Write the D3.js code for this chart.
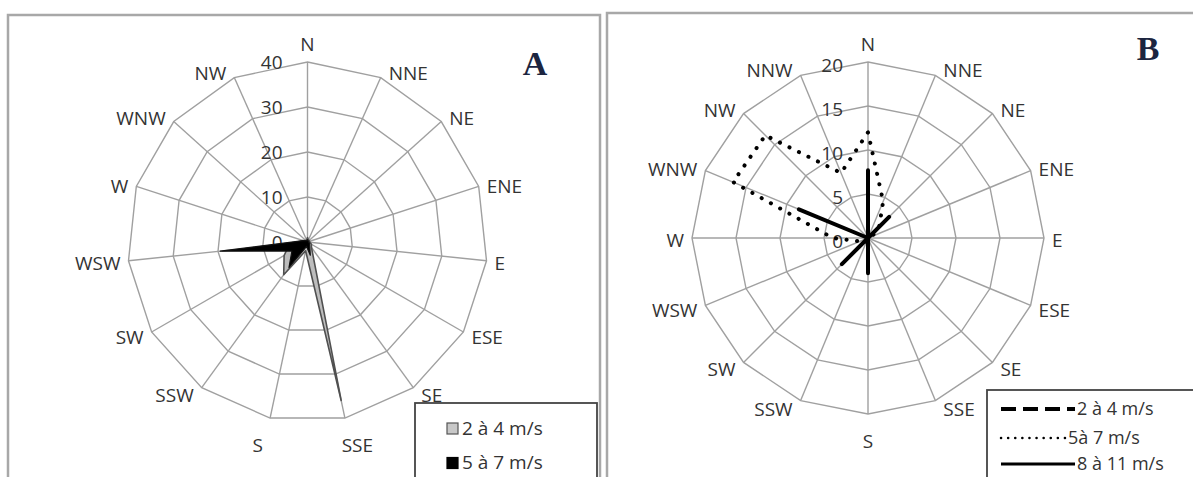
<!DOCTYPE html>
<html><head><meta charset="utf-8">
<script src="https://cdn.jsdelivr.net/npm/d3@7"></script>
<style>body{margin:0;background:#fff}svg text{font-family:"Open Sans",sans-serif}</style>
</head><body><svg id="c" width="1193" height="477"></svg>
<script>
// ---- Panel A data (15 directions) ----
const catsA = ["N","NNE","NE","ENE","E","ESE","SE","SSE","S","SSW","SW","WSW","W","WNW","NW"];
const speed24A = [1, 0.5, 0.5, 0.5, 0.5, 1, 1.5, 36, 2, 9, 6, 4, 1, 0.5, 0.5];
const speed57A = [0.5, 0.3, 0.3, 0.3, 0.3, 0.5, 0.8, 3, 1, 7, 4, 19.5, 1, 0.5, 0.3];
const ticksA = [0, 10, 20, 30, 40];
const seriesNamesA = ["2 à 4 m/s", "5 à 7 m/s"];

// ---- Panel B data (16 directions) ----
const catsB = ["N","NNE","NE","ENE","E","ESE","SE","SSE","S","SSW","SW","WSW","W","WNW","NW","NNW"];
const speed24B = [7.7, 0, 0, 0, 0, 0, 0, 0, 0, 0, 0, 0, 0, 0, 0, 0];
const speed57B = [12, 4.5, 1.8, 0.5, 0.3, 0.3, 0.3, 0.3, 0.5, 0.5, 0.8, 1, 4, 16.6, 16.5, 8];
const speed811B = [3.2, 0, 3.4, 0, 0, 0, 0, 0, 4, 0, 4.2, 0, 0, 8.5, 0, 0];
const ticksB = [0, 5, 10, 15, 20];
const seriesNamesB = ["2 à 4 m/s", "5à 7 m/s", "8 à 11 m/s"];

const svg = d3.select("#c");
svg.append("rect").attr("width",1193).attr("height",477).attr("fill","#fff");

// panel frames
svg.append("rect").attr("x",8).attr("y",15).attr("width",592).attr("height",480)
  .attr("fill","none").attr("stroke","#a8a8a8").attr("stroke-width",2.5);
svg.append("rect").attr("x",607).attr("y",13).attr("width",600).attr("height",480)
  .attr("fill","none").attr("stroke","#a8a8a8").attr("stroke-width",2.5);

function radarFrame(cx, cy, R, cats, ticks, tickOffY) {
  const g = svg.append("g").attr("transform", `translate(${cx},${cy})`);
  const n = cats.length;
  const ang = d3.scaleLinear().domain([0, n]).range([0, 2*Math.PI]);
  const r = d3.scaleLinear().domain([0, d3.max(ticks)]).range([0, R]);
  const ring = d3.lineRadial().angle((d,i)=>ang(i)).radius(d=>r(d)).curve(d3.curveLinearClosed);
  ticks.filter(t=>t>0).forEach(t=>{
    g.append("path").attr("d", ring(cats.map(()=>t)))
      .attr("fill","none").attr("stroke","#a0a0a0").attr("stroke-width",1.4);
  });
  cats.forEach((c,i)=>{
    const a = ang(i), s = Math.sin(a), co = Math.cos(a);
    g.append("line").attr("x1",0).attr("y1",0)
      .attr("x2", R*s).attr("y2", -R*co)
      .attr("stroke","#a0a0a0").attr("stroke-width",1.4);
    const vx = R*s, vy = -R*co;
    let x, y, anchor;
    if (Math.abs(s) < 0.25) {
      anchor = "middle"; x = vx + s*60; y = co > 0 ? vy - 18 : vy + 27;
    } else {
      anchor = s > 0 ? "start" : "end"; x = vx + Math.sign(s)*8; y = vy - 7*co + 2;
    }
    g.append("text").attr("x",x).attr("y",y+6.5).attr("text-anchor",anchor)
      .attr("font-size",19).attr("fill","#333").text(c);
  });
  ticks.forEach(t=>{
    g.append("text").attr("x",-25).attr("y",-r(t)+tickOffY).attr("text-anchor","end")
      .attr("font-size",19).attr("fill","#333").text(t);
  });
  return {g, ang, r};
}

// ---- Panel A ----
const A = radarFrame(307.5, 242, 180, catsA, ticksA, 7);
const areaA = d3.lineRadial().angle((d,i)=>A.ang(i)).radius(d=>A.r(d)).curve(d3.curveLinearClosed);
A.g.append("path").attr("d", areaA(speed24A)).attr("fill","#bdbdbd")
  .attr("stroke","#505050").attr("stroke-width",1.6).attr("stroke-linejoin","round");
A.g.append("path").attr("d", areaA(speed57A)).attr("fill","#000")
  .attr("stroke","#111").attr("stroke-width",1.2).attr("stroke-linejoin","round");

svg.append("text").attr("x",535).attr("y",75).attr("text-anchor","middle")
  .style("font-family","'Liberation Serif', serif")
  .attr("font-weight","bold").attr("font-size",34).attr("fill","#1c2540").text("A");

// legend A
svg.append("rect").attr("x",415).attr("y",403).attr("width",182).attr("height",100)
  .attr("fill","#fff").attr("stroke","#444").attr("stroke-width",1.8);
const legA = [{fill:"#c8c8c8", stroke:"#555"}, {fill:"#000", stroke:"#000"}];
seriesNamesA.forEach((nm,i)=>{
  const y = 423 + i*34.5;
  svg.append("rect").attr("x",447).attr("y",y).attr("width",11).attr("height",11)
    .attr("fill",legA[i].fill).attr("stroke",legA[i].stroke).attr("stroke-width",1.2);
  svg.append("text").attr("x",462).attr("y",y+11.5).attr("font-size",19).attr("fill","#333").text(nm);
});

// ---- Panel B ----
const B = radarFrame(868, 238, 176, catsB, ticksB, 10);
const lineB = d3.lineRadial().angle((d,i)=>B.ang(i)).radius(d=>B.r(d)).curve(d3.curveLinearClosed);
const stylesB = [
  {w:4, dash:"15,7", cap:"butt"},
  {w:4, dash:"0.1,10.5", cap:"round"},
  {w:4, dash:null, cap:"round"}
];
[speed24B, speed57B, speed811B].forEach((vals,i)=>{
  const p = B.g.append("path").attr("d", lineB(vals)).attr("fill","none")
    .attr("stroke","#000").attr("stroke-width",stylesB[i].w)
    .attr("stroke-linecap",stylesB[i].cap).attr("stroke-linejoin","round");
  if (stylesB[i].dash) p.attr("stroke-dasharray",stylesB[i].dash);
});

svg.append("text").attr("x",1148).attr("y",60).attr("text-anchor","middle")
  .style("font-family","'Liberation Serif', serif")
  .attr("font-weight","bold").attr("font-size",34).attr("fill","#1c2540").text("B");

// legend B
svg.append("rect").attr("x",987).attr("y",390).attr("width",220).attr("height",100)
  .attr("fill","#fff").attr("stroke","#444").attr("stroke-width",1.8);
const legB = [
  {y:409, x2:1075, tx:1077, w:4, dash:"15,7", cap:"butt"},
  {y:438, x2:1065, tx:1068, w:2.5, dash:"0.1,7", cap:"round"},
  {y:464, x2:1075, tx:1077, w:3, dash:null, cap:"butt"}
];
seriesNamesB.forEach((nm,i)=>{
  const L = legB[i];
  const ln = svg.append("line").attr("x1",1001).attr("x2",L.x2).attr("y1",L.y).attr("y2",L.y)
    .attr("stroke","#000").attr("stroke-width",L.w).attr("stroke-linecap",L.cap);
  if (L.dash) ln.attr("stroke-dasharray",L.dash);
  svg.append("text").attr("x",L.tx).attr("y",L.y+6).attr("font-size",18).attr("fill","#333").text(nm);
});
</script></body></html>
